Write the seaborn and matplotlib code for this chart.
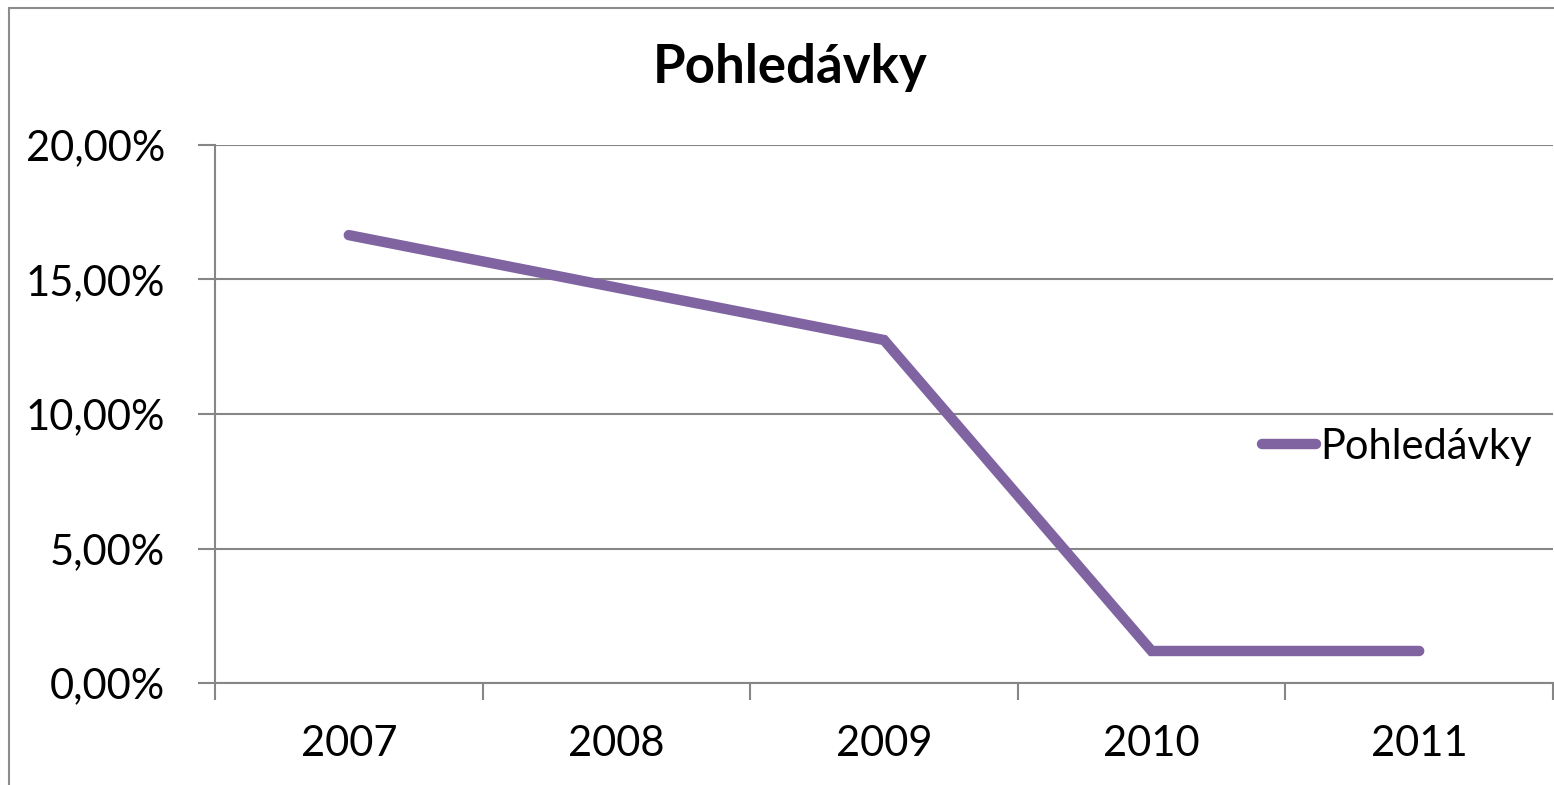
import numpy as np
import pandas as pd
import seaborn as sns
import matplotlib.pyplot as plt
from matplotlib.patches import Rectangle
from matplotlib.ticker import FuncFormatter, FixedLocator

years = ['2007', '2008', '2009', '2010', '2011']
pohledavky = [16.65, 14.70, 12.75, 1.19, 1.19]
series_name = 'Pohledávky'

sns.set_theme(style='white')
plt.rcParams['font.family'] = ['Lato', 'DejaVu Sans']
plt.rcParams['text.color'] = 'black'

df = pd.DataFrame({'rok': np.arange(len(years)), 'hodnota': pohledavky, 'serie': series_name})

fig = plt.figure(figsize=(15.54, 7.85), dpi=100)
# outer chart frame (cut off on the right / bottom like the screenshot)
fig.patches.append(Rectangle((9 / 1554, -0.05), 1.2, 1 - 7.5 / 785 + 0.05, transform=fig.transFigure,
                             fill=False, edgecolor='#8c8c8c', linewidth=1.5))
ax = fig.add_axes([215 / 1554, 1 - 683 / 785, 1338 / 1554, 538 / 785])

sns.lineplot(data=df, x='rok', y='hodnota', hue='serie', palette=['#8064A2'],
             linewidth=7.5, ax=ax, solid_capstyle='round', solid_joinstyle='miter')

ax.set_xlim(-0.5, len(years) - 0.5)
ax.set_ylim(0, 20)
ax.set_yticks([0, 5, 10, 15, 20])
ax.yaxis.set_major_formatter(FuncFormatter(lambda v, p: f'{v:.2f}'.replace('.', ',') + '%'))
ax.yaxis.grid(True, color='#868686', linewidth=1.5)
ax.set_axisbelow(True)

ax.set_xticks(np.arange(len(years)))
ax.set_xticklabels(years)
ax.xaxis.set_minor_locator(FixedLocator(np.arange(-0.5, len(years), 1.0)))
ax.tick_params(axis='x', which='major', length=0, pad=30, labelsize=30, labelcolor='black')
ax.tick_params(axis='x', which='minor', length=12, width=1.5, color='#868686', direction='out', bottom=True)
ax.tick_params(axis='y', length=12, width=1.5, color='#868686', direction='out', left=True, pad=24,
               labelsize=30, labelcolor='black')

for side in ['top', 'right']:
    ax.spines[side].set_visible(False)
for side in ['left', 'bottom']:
    ax.spines[side].set_color('#868686')
    ax.spines[side].set_linewidth(1.5)

ax.set_xlabel('')
ax.set_ylabel('')
fig.text(790 / 1554, 1 - 68 / 785, 'Pohledávky', ha='center', va='center', fontsize=38, fontweight='bold')

leg = ax.legend(loc='center left', bbox_to_anchor=(1030 / 1338, (683 - 447) / 538), frameon=False,
                fontsize=30, handlelength=1.3, handletextpad=0.1, borderaxespad=0)
for h in leg.get_lines():
    h.set_linewidth(7.5)
for t in leg.get_texts():
    t.set_color('black')

fig.savefig('out.png', dpi=100)
